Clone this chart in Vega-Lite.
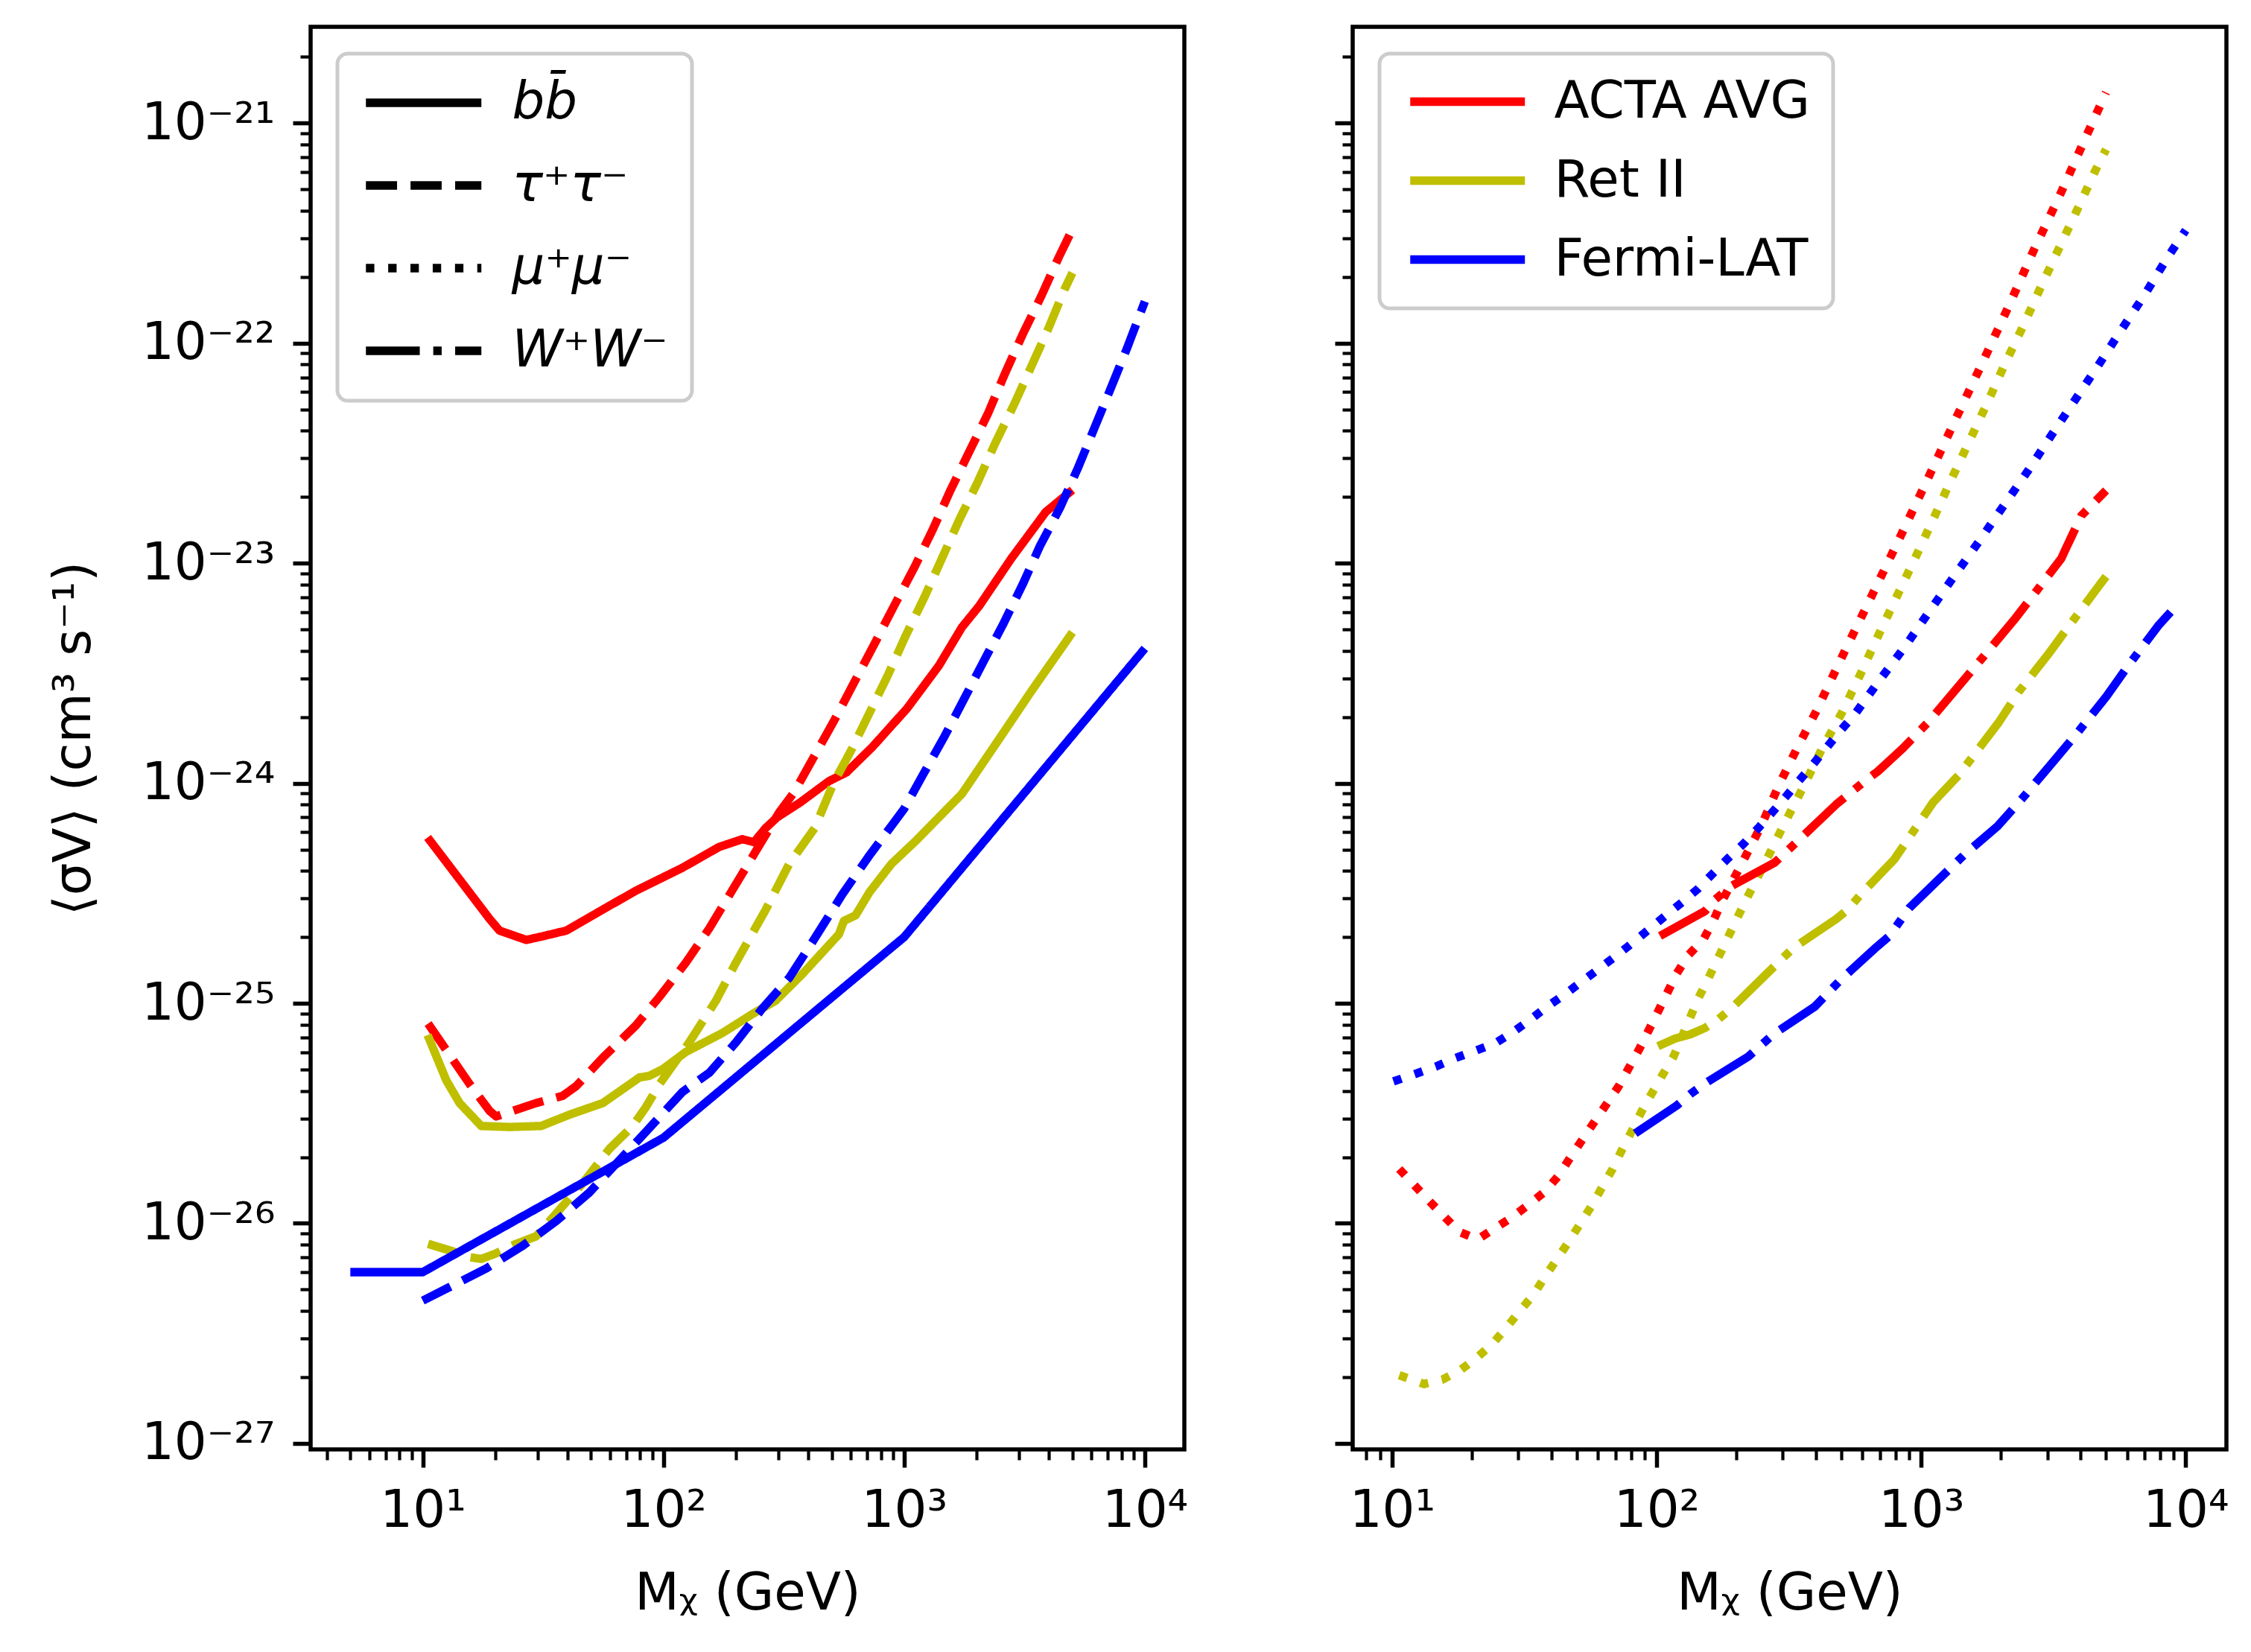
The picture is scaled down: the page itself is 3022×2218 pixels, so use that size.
{
"$schema": "https://vega.github.io/schema/vega-lite/v6.json",
"background": "white",
"autosize": {"type": "pad"},
"padding": {"left": 62, "top": 33, "right": 5, "bottom": 5},
"config": {
  "view": {"stroke": "black", "strokeWidth": 5.5},
  "axis": {"domain": false, "grid": false, "labelFont": "DejaVu Sans", "labelFontSize": 69, "labelColor": "black", "titleFont": "DejaVu Sans", "titleFontSize": 69, "titleFontWeight": "normal", "titleColor": "black", "tickColor": "black", "labelPadding": 24, "labelOverlap": false, "labelFlush": false, "labelBound": false},
  "legend": {"orient": "top-left", "offset": 36, "fillColor": "white", "strokeColor": "#cccccc", "strokeWidth": 5, "cornerRadius": 14, "labelFont": "DejaVu Sans", "labelFontSize": 69, "labelColor": "black", "labelLimit": 2000, "symbolSize": 1482.25, "symbolStrokeWidth": 11.3, "titleFontSize": 0}
},
"datasets": {
"d": [
{"p":"L","i":"ACTA AVG","c":"bb̄","m":10.47,"s":5.675e-25},
{"p":"L","i":"ACTA AVG","c":"bb̄","m":18.97,"s":2.415e-25},
{"p":"L","i":"ACTA AVG","c":"bb̄","m":20.84,"s":2.14e-25},
{"p":"L","i":"ACTA AVG","c":"bb̄","m":26.92,"s":1.941e-25},
{"p":"L","i":"ACTA AVG","c":"bb̄","m":31.55,"s":2.018e-25},
{"p":"L","i":"ACTA AVG","c":"bb̄","m":39.45,"s":2.14e-25},
{"p":"L","i":"ACTA AVG","c":"bb̄","m":55.98,"s":2.667e-25},
{"p":"L","i":"ACTA AVG","c":"bb̄","m":76.91,"s":3.251e-25},
{"p":"L","i":"ACTA AVG","c":"bb̄","m":119.9,"s":4.13e-25},
{"p":"L","i":"ACTA AVG","c":"bb̄","m":170.6,"s":5.14e-25},
{"p":"L","i":"ACTA AVG","c":"bb̄","m":212.8,"s":5.57e-25},
{"p":"L","i":"ACTA AVG","c":"bb̄","m":237.7,"s":5.4e-25},
{"p":"L","i":"ACTA AVG","c":"bb̄","m":265.5,"s":6.25e-25},
{"p":"L","i":"ACTA AVG","c":"bb̄","m":296.5,"s":7.0e-25},
{"p":"L","i":"ACTA AVG","c":"bb̄","m":369.8,"s":8.18e-25},
{"p":"L","i":"ACTA AVG","c":"bb̄","m":487.5,"s":1.023e-24},
{"p":"L","i":"ACTA AVG","c":"bb̄","m":575.4,"s":1.12e-24},
{"p":"L","i":"ACTA AVG","c":"bb̄","m":738.0,"s":1.462e-24},
{"p":"L","i":"ACTA AVG","c":"bb̄","m":1028,"s":2.188e-24},
{"p":"L","i":"ACTA AVG","c":"bb̄","m":1393,"s":3.42e-24},
{"p":"L","i":"ACTA AVG","c":"bb̄","m":1738,"s":5.12e-24},
{"p":"L","i":"ACTA AVG","c":"bb̄","m":2051,"s":6.4e-24},
{"p":"L","i":"ACTA AVG","c":"bb̄","m":2780,"s":1.047e-23},
{"p":"L","i":"ACTA AVG","c":"bb̄","m":3873,"s":1.71e-23},
{"p":"L","i":"ACTA AVG","c":"bb̄","m":5000,"s":2.153e-23},

{"p":"L","i":"ACTA AVG","c":"τ⁺τ⁻","m":10.52,"s":8.09e-26},
{"p":"L","i":"ACTA AVG","c":"τ⁺τ⁻","m":15.67,"s":4.29e-26},
{"p":"L","i":"ACTA AVG","c":"τ⁺τ⁻","m":18.97,"s":3.24e-26},
{"p":"L","i":"ACTA AVG","c":"τ⁺τ⁻","m":20.18,"s":3.06e-26},
{"p":"L","i":"ACTA AVG","c":"τ⁺τ⁻","m":29.58,"s":3.52e-26},
{"p":"L","i":"ACTA AVG","c":"τ⁺τ⁻","m":38.19,"s":3.8e-26},
{"p":"L","i":"ACTA AVG","c":"τ⁺τ⁻","m":43.35,"s":4.2e-26},
{"p":"L","i":"ACTA AVG","c":"τ⁺τ⁻","m":55.98,"s":5.66e-26},
{"p":"L","i":"ACTA AVG","c":"τ⁺τ⁻","m":76.91,"s":7.94e-26},
{"p":"L","i":"ACTA AVG","c":"τ⁺τ⁻","m":96.16,"s":1.069e-25},
{"p":"L","i":"ACTA AVG","c":"τ⁺τ⁻","m":123.9,"s":1.531e-25},
{"p":"L","i":"ACTA AVG","c":"τ⁺τ⁻","m":154.9,"s":2.188e-25},
{"p":"L","i":"ACTA AVG","c":"τ⁺τ⁻","m":219.8,"s":4.13e-25},
{"p":"L","i":"ACTA AVG","c":"τ⁺τ⁻","m":302,"s":7.35e-25},
{"p":"L","i":"ACTA AVG","c":"τ⁺τ⁻","m":349.9,"s":9.14e-25},
{"p":"L","i":"ACTA AVG","c":"τ⁺τ⁻","m":424.6,"s":1.337e-24},
{"p":"L","i":"ACTA AVG","c":"τ⁺τ⁻","m":515.2,"s":1.954e-24},
{"p":"L","i":"ACTA AVG","c":"τ⁺τ⁻","m":625.2,"s":2.924e-24},
{"p":"L","i":"ACTA AVG","c":"τ⁺τ⁻","m":758.6,"s":4.375e-24},
{"p":"L","i":"ACTA AVG","c":"τ⁺τ⁻","m":907.8,"s":6.4e-24},
{"p":"L","i":"ACTA AVG","c":"τ⁺τ⁻","m":1102,"s":9.57e-24},
{"p":"L","i":"ACTA AVG","c":"τ⁺τ⁻","m":1318,"s":1.432e-23},
{"p":"L","i":"ACTA AVG","c":"τ⁺τ⁻","m":1556,"s":2.143e-23},
{"p":"L","i":"ACTA AVG","c":"τ⁺τ⁻","m":1862,"s":3.206e-23},
{"p":"L","i":"ACTA AVG","c":"τ⁺τ⁻","m":2228,"s":4.786e-23},
{"p":"L","i":"ACTA AVG","c":"τ⁺τ⁻","m":2630,"s":7.33e-23},
{"p":"L","i":"ACTA AVG","c":"τ⁺τ⁻","m":3105,"s":1.096e-22},
{"p":"L","i":"ACTA AVG","c":"τ⁺τ⁻","m":3715,"s":1.641e-22},
{"p":"L","i":"ACTA AVG","c":"τ⁺τ⁻","m":4385,"s":2.455e-22},
{"p":"L","i":"ACTA AVG","c":"τ⁺τ⁻","m":5000,"s":3.3e-22},

{"p":"L","i":"Ret II","c":"bb̄","m":10.47,"s":7.18e-26},
{"p":"L","i":"Ret II","c":"bb̄","m":12.53,"s":4.46e-26},
{"p":"L","i":"Ret II","c":"bb̄","m":14.22,"s":3.52e-26},
{"p":"L","i":"Ret II","c":"bb̄","m":17.5,"s":2.77e-26},
{"p":"L","i":"Ret II","c":"bb̄","m":22.96,"s":2.74e-26},
{"p":"L","i":"Ret II","c":"bb̄","m":31.05,"s":2.77e-26},
{"p":"L","i":"Ret II","c":"bb̄","m":40.74,"s":3.12e-26},
{"p":"L","i":"Ret II","c":"bb̄","m":55.98,"s":3.52e-26},
{"p":"L","i":"Ret II","c":"bb̄","m":79.43,"s":4.6e-26},
{"p":"L","i":"Ret II","c":"bb̄","m":87.3,"s":4.68e-26},
{"p":"L","i":"Ret II","c":"bb̄","m":99.3,"s":5.02e-26},
{"p":"L","i":"Ret II","c":"bb̄","m":123.9,"s":6.01e-26},
{"p":"L","i":"Ret II","c":"bb̄","m":175.8,"s":7.33e-26},
{"p":"L","i":"Ret II","c":"bb̄","m":233.9,"s":8.93e-26},
{"p":"L","i":"Ret II","c":"bb̄","m":292.4,"s":1.028e-25},
{"p":"L","i":"Ret II","c":"bb̄","m":377.6,"s":1.358e-25},
{"p":"L","i":"Ret II","c":"bb̄","m":535.8,"s":2.06e-25},
{"p":"L","i":"Ret II","c":"bb̄","m":562.3,"s":2.37e-25},
{"p":"L","i":"Ret II","c":"bb̄","m":628.1,"s":2.51e-25},
{"p":"L","i":"Ret II","c":"bb̄","m":717.8,"s":3.2e-25},
{"p":"L","i":"Ret II","c":"bb̄","m":885.1,"s":4.3e-25},
{"p":"L","i":"Ret II","c":"bb̄","m":1117,"s":5.47e-25},
{"p":"L","i":"Ret II","c":"bb̄","m":1738,"s":8.95e-25},
{"p":"L","i":"Ret II","c":"bb̄","m":2559,"s":1.671e-24},
{"p":"L","i":"Ret II","c":"bb̄","m":3373,"s":2.618e-24},
{"p":"L","i":"Ret II","c":"bb̄","m":5000,"s":4.85e-24},

{"p":"L","i":"Ret II","c":"τ⁺τ⁻","m":10.52,"s":8.07e-27},
{"p":"L","i":"Ret II","c":"τ⁺τ⁻","m":13.37,"s":7.45e-27},
{"p":"L","i":"Ret II","c":"τ⁺τ⁻","m":15.67,"s":7.01e-27},
{"p":"L","i":"Ret II","c":"τ⁺τ⁻","m":17.5,"s":6.89e-27},
{"p":"L","i":"Ret II","c":"τ⁺τ⁻","m":20.18,"s":7.31e-27},
{"p":"L","i":"Ret II","c":"τ⁺τ⁻","m":24.43,"s":8.07e-27},
{"p":"L","i":"Ret II","c":"τ⁺τ⁻","m":29.58,"s":8.73e-27},
{"p":"L","i":"Ret II","c":"τ⁺τ⁻","m":36.98,"s":1.153e-26},
{"p":"L","i":"Ret II","c":"τ⁺τ⁻","m":46.24,"s":1.524e-26},
{"p":"L","i":"Ret II","c":"τ⁺τ⁻","m":59.57,"s":2.178e-26},
{"p":"L","i":"Ret II","c":"τ⁺τ⁻","m":74.47,"s":2.767e-26},
{"p":"L","i":"Ret II","c":"τ⁺τ⁻","m":84.53,"s":3.373e-26},
{"p":"L","i":"Ret II","c":"τ⁺τ⁻","m":96.16,"s":4.285e-26},
{"p":"L","i":"Ret II","c":"τ⁺τ⁻","m":127.9,"s":6.64e-26},
{"p":"L","i":"Ret II","c":"τ⁺τ⁻","m":165.2,"s":1.028e-25},
{"p":"L","i":"Ret II","c":"τ⁺τ⁻","m":200,"s":1.531e-25},
{"p":"L","i":"Ret II","c":"τ⁺τ⁻","m":266.1,"s":2.667e-25},
{"p":"L","i":"Ret II","c":"τ⁺τ⁻","m":332.7,"s":4.295e-25},
{"p":"L","i":"Ret II","c":"τ⁺τ⁻","m":424.6,"s":6.25e-25},
{"p":"L","i":"Ret II","c":"τ⁺τ⁻","m":508.2,"s":1.0e-24},
{"p":"L","i":"Ret II","c":"τ⁺τ⁻","m":599.8,"s":1.4e-24},
{"p":"L","i":"Ret II","c":"τ⁺τ⁻","m":717.8,"s":2.089e-24},
{"p":"L","i":"Ret II","c":"τ⁺τ⁻","m":859,"s":3.126e-24},
{"p":"L","i":"Ret II","c":"τ⁺τ⁻","m":1014,"s":4.677e-24},
{"p":"L","i":"Ret II","c":"τ⁺τ⁻","m":1213,"s":7.0e-24},
{"p":"L","i":"Ret II","c":"τ⁺τ⁻","m":1432,"s":1.047e-23},
{"p":"L","i":"Ret II","c":"τ⁺τ⁻","m":1690,"s":1.567e-23},
{"p":"L","i":"Ret II","c":"τ⁺τ⁻","m":2023,"s":2.344e-23},
{"p":"L","i":"Ret II","c":"τ⁺τ⁻","m":2388,"s":3.508e-23},
{"p":"L","i":"Ret II","c":"τ⁺τ⁻","m":2858,"s":5.25e-23},
{"p":"L","i":"Ret II","c":"τ⁺τ⁻","m":3373,"s":7.83e-23},
{"p":"L","i":"Ret II","c":"τ⁺τ⁻","m":3981,"s":1.172e-22},
{"p":"L","i":"Ret II","c":"τ⁺τ⁻","m":4634,"s":1.754e-22},
{"p":"L","i":"Ret II","c":"τ⁺τ⁻","m":5000,"s":2.09e-22},

{"p":"L","i":"Fermi-LAT","c":"bb̄","m":5,"s":6.0e-27},
{"p":"L","i":"Fermi-LAT","c":"bb̄","m":10,"s":6.0e-27},
{"p":"L","i":"Fermi-LAT","c":"bb̄","m":100,"s":2.45e-26},
{"p":"L","i":"Fermi-LAT","c":"bb̄","m":1000,"s":2.0e-25},
{"p":"L","i":"Fermi-LAT","c":"bb̄","m":10000,"s":4.1e-24},

{"p":"L","i":"Fermi-LAT","c":"τ⁺τ⁻","m":10,"s":4.45e-27},
{"p":"L","i":"Fermi-LAT","c":"τ⁺τ⁻","m":18.37,"s":6.24e-27},
{"p":"L","i":"Fermi-LAT","c":"τ⁺τ⁻","m":26.06,"s":7.92e-27},
{"p":"L","i":"Fermi-LAT","c":"τ⁺τ⁻","m":35.81,"s":1.023e-26},
{"p":"L","i":"Fermi-LAT","c":"τ⁺τ⁻","m":49.2,"s":1.38e-26},
{"p":"L","i":"Fermi-LAT","c":"τ⁺τ⁻","m":84.53,"s":2.606e-26},
{"p":"L","i":"Fermi-LAT","c":"τ⁺τ⁻","m":119.9,"s":3.954e-26},
{"p":"L","i":"Fermi-LAT","c":"τ⁺τ⁻","m":154.9,"s":4.83e-26},
{"p":"L","i":"Fermi-LAT","c":"τ⁺τ⁻","m":200,"s":6.64e-26},
{"p":"L","i":"Fermi-LAT","c":"τ⁺τ⁻","m":257.6,"s":9.48e-26},
{"p":"L","i":"Fermi-LAT","c":"τ⁺τ⁻","m":332.7,"s":1.303e-25},
{"p":"L","i":"Fermi-LAT","c":"τ⁺τ⁻","m":415.9,"s":1.901e-25},
{"p":"L","i":"Fermi-LAT","c":"τ⁺τ⁻","m":553.4,"s":3.126e-25},
{"p":"L","i":"Fermi-LAT","c":"τ⁺τ⁻","m":712.8,"s":4.656e-25},
{"p":"L","i":"Fermi-LAT","c":"τ⁺τ⁻","m":1000,"s":7.66e-25},
{"p":"L","i":"Fermi-LAT","c":"τ⁺τ⁻","m":1197,"s":1.094e-24},
{"p":"L","i":"Fermi-LAT","c":"τ⁺τ⁻","m":1472,"s":1.637e-24},
{"p":"L","i":"Fermi-LAT","c":"τ⁺τ⁻","m":1786,"s":2.449e-24},
{"p":"L","i":"Fermi-LAT","c":"τ⁺τ⁻","m":2138,"s":3.581e-24},
{"p":"L","i":"Fermi-LAT","c":"τ⁺τ⁻","m":2594,"s":5.358e-24},
{"p":"L","i":"Fermi-LAT","c":"τ⁺τ⁻","m":3105,"s":8.0e-24},
{"p":"L","i":"Fermi-LAT","c":"τ⁺τ⁻","m":3664,"s":1.197e-23},
{"p":"L","i":"Fermi-LAT","c":"τ⁺τ⁻","m":4446,"s":1.791e-23},
{"p":"L","i":"Fermi-LAT","c":"τ⁺τ⁻","m":5248,"s":2.679e-23},
{"p":"L","i":"Fermi-LAT","c":"τ⁺τ⁻","m":6109,"s":4.009e-23},
{"p":"L","i":"Fermi-LAT","c":"τ⁺τ⁻","m":7112,"s":6.0e-23},
{"p":"L","i":"Fermi-LAT","c":"τ⁺τ⁻","m":8395,"s":9.376e-23},
{"p":"L","i":"Fermi-LAT","c":"τ⁺τ⁻","m":10000,"s":1.549e-22},

{"p":"R","i":"ACTA AVG","c":"μ⁺μ⁻","m":10.64,"s":1.766e-26},
{"p":"R","i":"ACTA AVG","c":"μ⁺μ⁻","m":13.8,"s":1.265e-26},
{"p":"R","i":"ACTA AVG","c":"μ⁺μ⁻","m":17.91,"s":9.16e-27},
{"p":"R","i":"ACTA AVG","c":"μ⁺μ⁻","m":21.04,"s":8.45e-27},
{"p":"R","i":"ACTA AVG","c":"μ⁺μ⁻","m":24.27,"s":9.44e-27},
{"p":"R","i":"ACTA AVG","c":"μ⁺μ⁻","m":28.44,"s":1.067e-26},
{"p":"R","i":"ACTA AVG","c":"μ⁺μ⁻","m":32.89,"s":1.219e-26},
{"p":"R","i":"ACTA AVG","c":"μ⁺μ⁻","m":38.02,"s":1.4e-26},
{"p":"R","i":"ACTA AVG","c":"μ⁺μ⁻","m":42.66,"s":1.652e-26},
{"p":"R","i":"ACTA AVG","c":"μ⁺μ⁻","m":47.21,"s":1.995e-26},
{"p":"R","i":"ACTA AVG","c":"μ⁺μ⁻","m":58.61,"s":2.931e-26},
{"p":"R","i":"ACTA AVG","c":"μ⁺μ⁻","m":71.78,"s":4.188e-26},
{"p":"R","i":"ACTA AVG","c":"μ⁺μ⁻","m":85.9,"s":6.18e-26},
{"p":"R","i":"ACTA AVG","c":"μ⁺μ⁻","m":101.6,"s":9.25e-26},
{"p":"R","i":"ACTA AVG","c":"μ⁺μ⁻","m":119.1,"s":1.365e-25},
{"p":"R","i":"ACTA AVG","c":"μ⁺μ⁻","m":131.8,"s":1.656e-25},
{"p":"R","i":"ACTA AVG","c":"μ⁺μ⁻","m":150.3,"s":1.95e-25},
{"p":"R","i":"ACTA AVG","c":"μ⁺μ⁻","m":163.7,"s":2.366e-25},
{"p":"R","i":"ACTA AVG","c":"μ⁺μ⁻","m":176.2,"s":2.891e-25},
{"p":"R","i":"ACTA AVG","c":"μ⁺μ⁻","m":209.4,"s":4.295e-25},
{"p":"R","i":"ACTA AVG","c":"μ⁺μ⁻","m":249.5,"s":6.47e-25},
{"p":"R","i":"ACTA AVG","c":"μ⁺μ⁻","m":288.4,"s":9.68e-25},
{"p":"R","i":"ACTA AVG","c":"μ⁺μ⁻","m":338.1,"s":1.429e-24},
{"p":"R","i":"ACTA AVG","c":"μ⁺μ⁻","m":400.9,"s":2.123e-24},
{"p":"R","i":"ACTA AVG","c":"μ⁺μ⁻","m":511.7,"s":3.936e-24},
{"p":"R","i":"ACTA AVG","c":"μ⁺μ⁻","m":651.6,"s":7.145e-24},
{"p":"R","i":"ACTA AVG","c":"μ⁺μ⁻","m":827.9,"s":1.297e-23},
{"p":"R","i":"ACTA AVG","c":"μ⁺μ⁻","m":1054,"s":2.388e-23},
{"p":"R","i":"ACTA AVG","c":"μ⁺μ⁻","m":1334,"s":4.385e-23},
{"p":"R","i":"ACTA AVG","c":"μ⁺μ⁻","m":1687,"s":7.943e-23},
{"p":"R","i":"ACTA AVG","c":"μ⁺μ⁻","m":2138,"s":1.466e-22},
{"p":"R","i":"ACTA AVG","c":"μ⁺μ⁻","m":2679,"s":2.685e-22},
{"p":"R","i":"ACTA AVG","c":"μ⁺μ⁻","m":3388,"s":4.875e-22},
{"p":"R","i":"ACTA AVG","c":"μ⁺μ⁻","m":4256,"s":8.995e-22},
{"p":"R","i":"ACTA AVG","c":"μ⁺μ⁻","m":5000,"s":1.38e-21},

{"p":"R","i":"Ret II","c":"μ⁺μ⁻","m":10.64,"s":2.04e-27},
{"p":"R","i":"Ret II","c":"μ⁺μ⁻","m":13.2,"s":1.86e-27},
{"p":"R","i":"Ret II","c":"μ⁺μ⁻","m":15.5,"s":1.95e-27},
{"p":"R","i":"Ret II","c":"μ⁺μ⁻","m":18.2,"s":2.16e-27},
{"p":"R","i":"Ret II","c":"μ⁺μ⁻","m":21.04,"s":2.47e-27},
{"p":"R","i":"Ret II","c":"μ⁺μ⁻","m":23.93,"s":2.83e-27},
{"p":"R","i":"Ret II","c":"μ⁺μ⁻","m":27.29,"s":3.4e-27},
{"p":"R","i":"Ret II","c":"μ⁺μ⁻","m":30.62,"s":4.04e-27},
{"p":"R","i":"Ret II","c":"μ⁺μ⁻","m":34.36,"s":4.76e-27},
{"p":"R","i":"Ret II","c":"μ⁺μ⁻","m":38.02,"s":5.77e-27},
{"p":"R","i":"Ret II","c":"μ⁺μ⁻","m":42.07,"s":6.9e-27},
{"p":"R","i":"Ret II","c":"μ⁺μ⁻","m":46.56,"s":8.26e-27},
{"p":"R","i":"Ret II","c":"μ⁺μ⁻","m":51.52,"s":1.0e-26},
{"p":"R","i":"Ret II","c":"μ⁺μ⁻","m":57.02,"s":1.21e-26},
{"p":"R","i":"Ret II","c":"μ⁺μ⁻","m":62.23,"s":1.46e-26},
{"p":"R","i":"Ret II","c":"μ⁺μ⁻","m":68.23,"s":1.77e-26},
{"p":"R","i":"Ret II","c":"μ⁺μ⁻","m":73.96,"s":2.16e-26},
{"p":"R","i":"Ret II","c":"μ⁺μ⁻","m":80.72,"s":2.64e-26},
{"p":"R","i":"Ret II","c":"μ⁺μ⁻","m":87.9,"s":3.24e-26},
{"p":"R","i":"Ret II","c":"μ⁺μ⁻","m":95.94,"s":3.9e-26},
{"p":"R","i":"Ret II","c":"μ⁺μ⁻","m":105.2,"s":4.72e-26},
{"p":"R","i":"Ret II","c":"μ⁺μ⁻","m":115.9,"s":5.73e-26},
{"p":"R","i":"Ret II","c":"μ⁺μ⁻","m":143.9,"s":1.057e-25},
{"p":"R","i":"Ret II","c":"μ⁺μ⁻","m":157,"s":1.3e-25},
{"p":"R","i":"Ret II","c":"μ⁺μ⁻","m":184.1,"s":1.94e-25},
{"p":"R","i":"Ret II","c":"μ⁺μ⁻","m":215.8,"s":2.89e-25},
{"p":"R","i":"Ret II","c":"μ⁺μ⁻","m":256.4,"s":4.33e-25},
{"p":"R","i":"Ret II","c":"μ⁺μ⁻","m":300.6,"s":6.38e-25},
{"p":"R","i":"Ret II","c":"μ⁺μ⁻","m":358.1,"s":9.59e-25},
{"p":"R","i":"Ret II","c":"μ⁺μ⁻","m":419.8,"s":1.42e-24},
{"p":"R","i":"Ret II","c":"μ⁺μ⁻","m":503.5,"s":2.11e-24},
{"p":"R","i":"Ret II","c":"μ⁺μ⁻","m":591.6,"s":3.16e-24},
{"p":"R","i":"Ret II","c":"μ⁺μ⁻","m":691.8,"s":4.75e-24},
{"p":"R","i":"Ret II","c":"μ⁺μ⁻","m":812.8,"s":7.15e-24},
{"p":"R","i":"Ret II","c":"μ⁺μ⁻","m":950.6,"s":1.06e-23},
{"p":"R","i":"Ret II","c":"μ⁺μ⁻","m":1112,"s":1.59e-23},
{"p":"R","i":"Ret II","c":"μ⁺μ⁻","m":1297,"s":2.39e-23},
{"p":"R","i":"Ret II","c":"μ⁺μ⁻","m":1521,"s":3.59e-23},
{"p":"R","i":"Ret II","c":"μ⁺μ⁻","m":1778,"s":5.35e-23},
{"p":"R","i":"Ret II","c":"μ⁺μ⁻","m":2075,"s":8.07e-23},
{"p":"R","i":"Ret II","c":"μ⁺μ⁻","m":2432,"s":1.2e-22},
{"p":"R","i":"Ret II","c":"μ⁺μ⁻","m":2838,"s":1.81e-22},
{"p":"R","i":"Ret II","c":"μ⁺μ⁻","m":3319,"s":2.7e-22},
{"p":"R","i":"Ret II","c":"μ⁺μ⁻","m":3882,"s":4.02e-22},
{"p":"R","i":"Ret II","c":"μ⁺μ⁻","m":4539,"s":6.04e-22},
{"p":"R","i":"Ret II","c":"μ⁺μ⁻","m":5000,"s":7.6e-22},

{"p":"R","i":"Fermi-LAT","c":"μ⁺μ⁻","m":10.12,"s":4.416e-26},
{"p":"R","i":"Fermi-LAT","c":"μ⁺μ⁻","m":12.3,"s":4.786e-26},
{"p":"R","i":"Fermi-LAT","c":"μ⁺μ⁻","m":14.66,"s":5.164e-26},
{"p":"R","i":"Fermi-LAT","c":"μ⁺μ⁻","m":17.42,"s":5.649e-26},
{"p":"R","i":"Fermi-LAT","c":"μ⁺μ⁻","m":20.7,"s":6.095e-26},
{"p":"R","i":"Fermi-LAT","c":"μ⁺μ⁻","m":24.66,"s":6.607e-26},
{"p":"R","i":"Fermi-LAT","c":"μ⁺μ⁻","m":28.64,"s":7.396e-26},
{"p":"R","i":"Fermi-LAT","c":"μ⁺μ⁻","m":33.42,"s":8.453e-26},
{"p":"R","i":"Fermi-LAT","c":"μ⁺μ⁻","m":38.55,"s":9.66e-26},
{"p":"R","i":"Fermi-LAT","c":"μ⁺μ⁻","m":44.87,"s":1.096e-25},
{"p":"R","i":"Fermi-LAT","c":"μ⁺μ⁻","m":52.0,"s":1.253e-25},
{"p":"R","i":"Fermi-LAT","c":"μ⁺μ⁻","m":60.39,"s":1.432e-25},
{"p":"R","i":"Fermi-LAT","c":"μ⁺μ⁻","m":69.82,"s":1.633e-25},
{"p":"R","i":"Fermi-LAT","c":"μ⁺μ⁻","m":80.72,"s":1.875e-25},
{"p":"R","i":"Fermi-LAT","c":"μ⁺μ⁻","m":93.33,"s":2.163e-25},
{"p":"R","i":"Fermi-LAT","c":"μ⁺μ⁻","m":107.7,"s":2.495e-25},
{"p":"R","i":"Fermi-LAT","c":"μ⁺μ⁻","m":124.5,"s":2.871e-25},
{"p":"R","i":"Fermi-LAT","c":"μ⁺μ⁻","m":143.2,"s":3.311e-25},
{"p":"R","i":"Fermi-LAT","c":"μ⁺μ⁻","m":162.6,"s":3.873e-25},
{"p":"R","i":"Fermi-LAT","c":"μ⁺μ⁻","m":186.6,"s":4.571e-25},
{"p":"R","i":"Fermi-LAT","c":"μ⁺μ⁻","m":212.8,"s":5.297e-25},
{"p":"R","i":"Fermi-LAT","c":"μ⁺μ⁻","m":242.1,"s":6.252e-25},
{"p":"R","i":"Fermi-LAT","c":"μ⁺μ⁻","m":272.3,"s":7.33e-25},
{"p":"R","i":"Fermi-LAT","c":"μ⁺μ⁻","m":306.9,"s":8.65e-25},
{"p":"R","i":"Fermi-LAT","c":"μ⁺μ⁻","m":345.1,"s":1.026e-24},
{"p":"R","i":"Fermi-LAT","c":"μ⁺μ⁻","m":390.8,"s":1.222e-24},
{"p":"R","i":"Fermi-LAT","c":"μ⁺μ⁻","m":438.5,"s":1.449e-24},
{"p":"R","i":"Fermi-LAT","c":"μ⁺μ⁻","m":492,"s":1.718e-24},
{"p":"R","i":"Fermi-LAT","c":"μ⁺μ⁻","m":558.5,"s":2.042e-24},
{"p":"R","i":"Fermi-LAT","c":"μ⁺μ⁻","m":699.8,"s":2.965e-24},
{"p":"R","i":"Fermi-LAT","c":"μ⁺μ⁻","m":871,"s":4.198e-24},
{"p":"R","i":"Fermi-LAT","c":"μ⁺μ⁻","m":1079,"s":6.095e-24},
{"p":"R","i":"Fermi-LAT","c":"μ⁺μ⁻","m":1334,"s":8.75e-24},
{"p":"R","i":"Fermi-LAT","c":"μ⁺μ⁻","m":1652,"s":1.253e-23},
{"p":"R","i":"Fermi-LAT","c":"μ⁺μ⁻","m":2046,"s":1.82e-23},
{"p":"R","i":"Fermi-LAT","c":"μ⁺μ⁻","m":2523,"s":2.612e-23},
{"p":"R","i":"Fermi-LAT","c":"μ⁺μ⁻","m":3097,"s":3.793e-23},
{"p":"R","i":"Fermi-LAT","c":"μ⁺μ⁻","m":3811,"s":5.508e-23},
{"p":"R","i":"Fermi-LAT","c":"μ⁺μ⁻","m":4677,"s":7.943e-23},
{"p":"R","i":"Fermi-LAT","c":"μ⁺μ⁻","m":5741,"s":1.161e-22},
{"p":"R","i":"Fermi-LAT","c":"μ⁺μ⁻","m":7047,"s":1.683e-22},
{"p":"R","i":"Fermi-LAT","c":"μ⁺μ⁻","m":8570,"s":2.472e-22},
{"p":"R","i":"Fermi-LAT","c":"μ⁺μ⁻","m":10000,"s":3.26e-22},

{"p":"R","i":"ACTA AVG","c":"W⁺W⁻","m":103.0,"s":2.023e-25},
{"p":"R","i":"ACTA AVG","c":"W⁺W⁻","m":152.4,"s":2.624e-25},
{"p":"R","i":"ACTA AVG","c":"W⁺W⁻","m":166.3,"s":2.958e-25},
{"p":"R","i":"ACTA AVG","c":"W⁺W⁻","m":189.2,"s":3.381e-25},
{"p":"R","i":"ACTA AVG","c":"W⁺W⁻","m":279.9,"s":4.365e-25},
{"p":"R","i":"ACTA AVG","c":"W⁺W⁻","m":352.4,"s":5.662e-25},
{"p":"R","i":"ACTA AVG","c":"W⁺W⁻","m":477.5,"s":8.017e-25},
{"p":"R","i":"ACTA AVG","c":"W⁺W⁻","m":611,"s":1.021e-24},
{"p":"R","i":"ACTA AVG","c":"W⁺W⁻","m":685.5,"s":1.132e-24},
{"p":"R","i":"ACTA AVG","c":"W⁺W⁻","m":853.1,"s":1.442e-24},
{"p":"R","i":"ACTA AVG","c":"W⁺W⁻","m":1064,"s":1.897e-24},
{"p":"R","i":"ACTA AVG","c":"W⁺W⁻","m":1406,"s":2.818e-24},
{"p":"R","i":"ACTA AVG","c":"W⁺W⁻","m":1702,"s":3.707e-24},
{"p":"R","i":"ACTA AVG","c":"W⁺W⁻","m":2244,"s":5.521e-24},
{"p":"R","i":"ACTA AVG","c":"W⁺W⁻","m":2716,"s":7.43e-24},
{"p":"R","i":"ACTA AVG","c":"W⁺W⁻","m":3388,"s":1.052e-23},
{"p":"R","i":"ACTA AVG","c":"W⁺W⁻","m":3483,"s":1.132e-23},
{"p":"R","i":"ACTA AVG","c":"W⁺W⁻","m":4036,"s":1.648e-23},
{"p":"R","i":"ACTA AVG","c":"W⁺W⁻","m":5000,"s":2.143e-23},

{"p":"R","i":"Ret II","c":"W⁺W⁻","m":101.2,"s":6.383e-26},
{"p":"R","i":"Ret II","c":"W⁺W⁻","m":117.5,"s":6.918e-26},
{"p":"R","i":"Ret II","c":"W⁺W⁻","m":134,"s":7.228e-26},
{"p":"R","i":"Ret II","c":"W⁺W⁻","m":152.4,"s":7.727e-26},
{"p":"R","i":"Ret II","c":"W⁺W⁻","m":171,"s":8.453e-26},
{"p":"R","i":"Ret II","c":"W⁺W⁻","m":195,"s":9.66e-26},
{"p":"R","i":"Ret II","c":"W⁺W⁻","m":264.2,"s":1.384e-25},
{"p":"R","i":"Ret II","c":"W⁺W⁻","m":328.1,"s":1.782e-25},
{"p":"R","i":"Ret II","c":"W⁺W⁻","m":477.5,"s":2.415e-25},
{"p":"R","i":"Ret II","c":"W⁺W⁻","m":528.4,"s":2.667e-25},
{"p":"R","i":"Ret II","c":"W⁺W⁻","m":586.1,"s":3.09e-25},
{"p":"R","i":"Ret II","c":"W⁺W⁻","m":792.5,"s":4.519e-25},
{"p":"R","i":"Ret II","c":"W⁺W⁻","m":1112,"s":8.222e-25},
{"p":"R","i":"Ret II","c":"W⁺W⁻","m":1384,"s":1.086e-24},
{"p":"R","i":"Ret II","c":"W⁺W⁻","m":1968,"s":1.897e-24},
{"p":"R","i":"Ret II","c":"W⁺W⁻","m":2344,"s":2.618e-24},
{"p":"R","i":"Ret II","c":"W⁺W⁻","m":3013,"s":3.837e-24},
{"p":"R","i":"Ret II","c":"W⁺W⁻","m":3648,"s":5.248e-24},
{"p":"R","i":"Ret II","c":"W⁺W⁻","m":4742,"s":8.017e-24},
{"p":"R","i":"Ret II","c":"W⁺W⁻","m":5000,"s":8.71e-24},

{"p":"R","i":"Fermi-LAT","c":"W⁺W⁻","m":82.99,"s":2.564e-26},
{"p":"R","i":"Fermi-LAT","c":"W⁺W⁻","m":119.1,"s":3.428e-26},
{"p":"R","i":"Fermi-LAT","c":"W⁺W⁻","m":134,"s":3.864e-26},
{"p":"R","i":"Fermi-LAT","c":"W⁺W⁻","m":152.4,"s":4.325e-26},
{"p":"R","i":"Fermi-LAT","c":"W⁺W⁻","m":222.3,"s":5.728e-26},
{"p":"R","i":"Fermi-LAT","c":"W⁺W⁻","m":276.1,"s":7.228e-26},
{"p":"R","i":"Fermi-LAT","c":"W⁺W⁻","m":396.3,"s":9.66e-26},
{"p":"R","i":"Fermi-LAT","c":"W⁺W⁻","m":492,"s":1.265e-25},
{"p":"R","i":"Fermi-LAT","c":"W⁺W⁻","m":544.5,"s":1.416e-25},
{"p":"R","i":"Fermi-LAT","c":"W⁺W⁻","m":666.8,"s":1.77e-25},
{"p":"R","i":"Fermi-LAT","c":"W⁺W⁻","m":758.6,"s":2.023e-25},
{"p":"R","i":"Fermi-LAT","c":"W⁺W⁻","m":901.6,"s":2.71e-25},
{"p":"R","i":"Fermi-LAT","c":"W⁺W⁻","m":1143,"s":3.573e-25},
{"p":"R","i":"Fermi-LAT","c":"W⁺W⁻","m":1449,"s":4.71e-25},
{"p":"R","i":"Fermi-LAT","c":"W⁺W⁻","m":1945,"s":6.383e-25},
{"p":"R","i":"Fermi-LAT","c":"W⁺W⁻","m":2415,"s":8.551e-25},
{"p":"R","i":"Fermi-LAT","c":"W⁺W⁻","m":3192,"s":1.274e-24},
{"p":"R","i":"Fermi-LAT","c":"W⁺W⁻","m":3864,"s":1.675e-24},
{"p":"R","i":"Fermi-LAT","c":"W⁺W⁻","m":5023,"s":2.489e-24},
{"p":"R","i":"Fermi-LAT","c":"W⁺W⁻","m":6081,"s":3.443e-24},
{"p":"R","i":"Fermi-LAT","c":"W⁺W⁻","m":7925,"s":5.248e-24},
{"p":"R","i":"Fermi-LAT","c":"W⁺W⁻","m":8770,"s":5.998e-24}
]
},
"hconcat": [
{
  "width": 1173, "height": 1910,
  "data": {"name": "d"},
  "transform": [{"filter": "datum.p == 'L'"}],
  "mark": {"type": "line", "strokeWidth": 11.3, "strokeJoin": "round", "clip": true},
  "encoding": {
    "x": {"field": "m", "type": "quantitative",
      "scale": {"type": "log", "domain": [3.42, 14590], "nice": false},
      "axis": {
        "values": [4,5,6,7,8,9,10,20,30,40,50,60,70,80,90,100,200,300,400,500,600,700,800,900,1000,2000,3000,4000,5000,6000,7000,8000,9000,10000],
        "labelExpr": "datum.value == 10 ? '10¹' : datum.value == 100 ? '10²' : datum.value == 1000 ? '10³' : datum.value == 10000 ? '10⁴' : ''",
        "tickSize": {"condition": {"test": "indexof([10,100,1000,10000], datum.value) >= 0", "value": 24}, "value": 14},
        "tickWidth": {"condition": {"test": "indexof([10,100,1000,10000], datum.value) >= 0", "value": 5.5}, "value": 4.2},
        "title": "Mᵪ (GeV)", "titlePadding": 42
      }},
    "y": {"field": "s", "type": "quantitative",
      "scale": {"type": "log", "domain": [9.386e-28, 2.742e-21], "nice": false},
      "axis": {
        "values": [1e-27,2e-27,3e-27,4e-27,5e-27,6e-27,7e-27,8e-27,9e-27,1e-26,2e-26,3e-26,4e-26,5e-26,6e-26,7e-26,8e-26,9e-26,1e-25,2e-25,3e-25,4e-25,5e-25,6e-25,7e-25,8e-25,9e-25,1e-24,2e-24,3e-24,4e-24,5e-24,6e-24,7e-24,8e-24,9e-24,1e-23,2e-23,3e-23,4e-23,5e-23,6e-23,7e-23,8e-23,9e-23,1e-22,2e-22,3e-22,4e-22,5e-22,6e-22,7e-22,8e-22,9e-22,1e-21,2e-21],
        "labelExpr": "datum.value == 1e-27 ? '10⁻²⁷' : datum.value == 1e-26 ? '10⁻²⁶' : datum.value == 1e-25 ? '10⁻²⁵' : datum.value == 1e-24 ? '10⁻²⁴' : datum.value == 1e-23 ? '10⁻²³' : datum.value == 1e-22 ? '10⁻²²' : datum.value == 1e-21 ? '10⁻²¹' : ''",
        "tickSize": {"condition": {"test": "indexof([1e-27,1e-26,1e-25,1e-24,1e-23,1e-22,1e-21], datum.value) >= 0", "value": 24}, "value": 14},
        "tickWidth": {"condition": {"test": "indexof([1e-27,1e-26,1e-25,1e-24,1e-23,1e-22,1e-21], datum.value) >= 0", "value": 5.5}, "value": 4.2},
        "title": "⟨σV⟩ (cm³ s⁻¹)", "titlePadding": 83
      }},
    "color": {"field": "i", "type": "nominal",
      "scale": {"domain": ["ACTA AVG", "Ret II", "Fermi-LAT"], "range": ["#ff0000", "#bfbf00", "#0000ff"]},
      "legend": null},
    "strokeDash": {"field": "c", "type": "nominal",
      "scale": {"domain": ["bb̄", "τ⁺τ⁻", "μ⁺μ⁻", "W⁺W⁻"], "range": [[1, 0], [41.8, 18.1], [11.3, 18.6], [72.3, 18.1, 11.3, 18.1]]},
      "legend": {"title": null, "symbolStrokeColor": "black", "symbolType": "M-1.4416,0H6.61", "labelFontStyle": "italic", "labelExpr": "datum.label + '\u00a0\u00a0\u00a0'", "labelOffset": 134, "padding": 31.5, "rowPadding": 41, "offset": 36}}
  }
},
{
  "width": 1173, "height": 1910,
  "data": {"name": "d"},
  "transform": [{"filter": "datum.p == 'R'"}],
  "mark": {"type": "line", "strokeWidth": 11.3, "strokeJoin": "round", "clip": true},
  "encoding": {
    "x": {"field": "m", "type": "quantitative",
      "scale": {"type": "log", "domain": [7.096, 14256], "nice": false},
      "axis": {
        "values": [8,9,10,20,30,40,50,60,70,80,90,100,200,300,400,500,600,700,800,900,1000,2000,3000,4000,5000,6000,7000,8000,9000,10000],
        "labelExpr": "datum.value == 10 ? '10¹' : datum.value == 100 ? '10²' : datum.value == 1000 ? '10³' : datum.value == 10000 ? '10⁴' : ''",
        "tickSize": {"condition": {"test": "indexof([10,100,1000,10000], datum.value) >= 0", "value": 24}, "value": 14},
        "tickWidth": {"condition": {"test": "indexof([10,100,1000,10000], datum.value) >= 0", "value": 5.5}, "value": 4.2},
        "title": "Mᵪ (GeV)", "titlePadding": 42
      }},
    "y": {"field": "s", "type": "quantitative",
      "scale": {"type": "log", "domain": [9.386e-28, 2.742e-21], "nice": false},
      "axis": {
        "values": [1e-27,2e-27,3e-27,4e-27,5e-27,6e-27,7e-27,8e-27,9e-27,1e-26,2e-26,3e-26,4e-26,5e-26,6e-26,7e-26,8e-26,9e-26,1e-25,2e-25,3e-25,4e-25,5e-25,6e-25,7e-25,8e-25,9e-25,1e-24,2e-24,3e-24,4e-24,5e-24,6e-24,7e-24,8e-24,9e-24,1e-23,2e-23,3e-23,4e-23,5e-23,6e-23,7e-23,8e-23,9e-23,1e-22,2e-22,3e-22,4e-22,5e-22,6e-22,7e-22,8e-22,9e-22,1e-21,2e-21],
        "labels": false,
        "tickSize": {"condition": {"test": "indexof([1e-27,1e-26,1e-25,1e-24,1e-23,1e-22,1e-21], datum.value) >= 0", "value": 24}, "value": 14},
        "tickWidth": {"condition": {"test": "indexof([1e-27,1e-26,1e-25,1e-24,1e-23,1e-22,1e-21], datum.value) >= 0", "value": 5.5}, "value": 4.2},
        "title": null
      }},
    "color": {"field": "i", "type": "nominal",
      "scale": {"domain": ["ACTA AVG", "Ret II", "Fermi-LAT"], "range": ["#ff0000", "#bfbf00", "#0000ff"]},
      "legend": {"title": null, "symbolType": "M-1.208,0H6.79", "labelExpr": "datum.label + '\u00a0'", "labelOffset": 135.5, "padding": 30, "rowPadding": 36, "offset": 36}},
    "strokeDash": {"field": "c", "type": "nominal",
      "scale": {"domain": ["bb̄", "τ⁺τ⁻", "μ⁺μ⁻", "W⁺W⁻"], "range": [[1, 0], [41.8, 18.1], [11.3, 18.6], [72.3, 18.1, 11.3, 18.1]]},
      "legend": null}
  }
}
],
"spacing": 226,
"bounds": "flush",
"resolve": {"scale": {"x": "independent", "y": "independent", "color": "independent", "strokeDash": "independent"}, "legend": {"color": "independent", "strokeDash": "independent"}}
}
